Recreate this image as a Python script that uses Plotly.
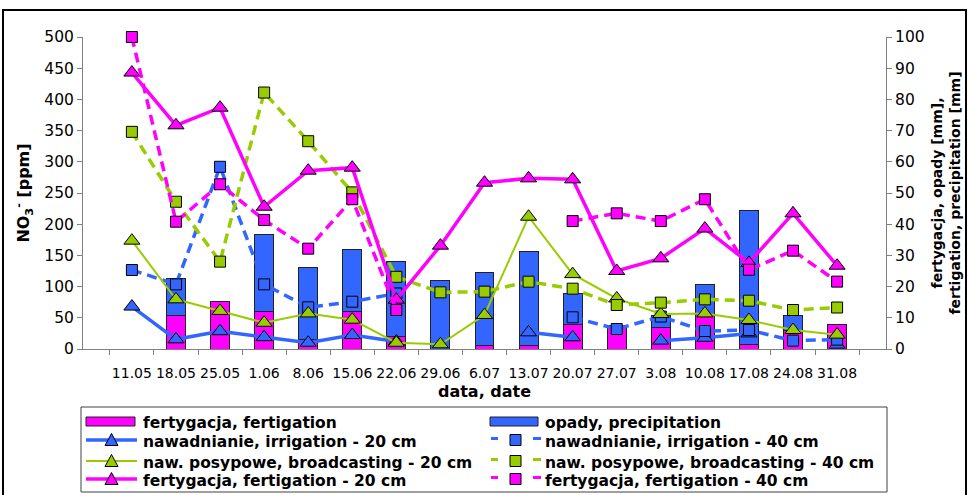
import plotly.graph_objects as go

# Sampling dates
dates = ["11.05", "18.05", "25.05", "1.06", "8.06", "15.06", "22.06", "29.06", "6.07",
         "13.07", "20.07", "27.07", "3.08", "10.08", "17.08", "24.08", "31.08"]

# Water supplied [mm] (right axis)
fertigation_mm = [0, 10.7, 15.2, 11.9, 3.0, 11.9, 4.1, 0, 1.1, 1.1, 8.0, 7.5, 7.0, 10.9, 1.5, 5.8, 8.0]
precipitation_mm = [0, 11.9, 0, 24.9, 23.1, 20.1, 23.9, 22.0, 23.3, 30.1, 9.8, 0, 3.7, 9.9, 42.8, 4.9, 0]

# NO3- concentration [ppm] (left axis)
irrigation_20 = [68, 15.5, 28.5, 19, 10, 22.4, 12, None, None, 26.7, 18.7, None, 13.4, 18, 25, None, 7]
irrigation_40 = [126.6, 103.6, 292, 103.6, 66.8, 75.8, 89, None, None, None, 50.8, 32, 52, 28.8, 30.4, 13.4, 15]
broadcast_20 = [173.6, 79.6, 61, 42, 57, 47, 10, 7.5, 54.5, 212, 120, 81, 56, 57, 46.5, 30.4, 23]
broadcast_40 = [348, 236, 140, 411, 333, 251, 115.7, 90.8, 91.9, 107.9, 96.7, 70.5, 74.3, 79.6, 77.4, 62.5, 66.5]
fertig_20 = [443, 358.5, 386.7, 228, 285.8, 290.6, 79, 165.6, 266.5, 273.5, 271.9, 125, 145.3, 193, 138, 217.4, 133.5]
fertig_40 = [500, 204, 264, 206.7, 160.8, 240, 62.5, None, None, None, 205, 217.4, 205, 240, 127, 157.6, 108]

MAGENTA = "#FF00FF"
BLUE = "#3366FF"
GREEN = "#99CC00"
FONT = "DejaVu Sans"

# page geometry (px)
W, H = 969, 495
ML, MR, MT, MB = 83, 83, 37, 146
PW, PH = W - ML - MR, H - MT - MB


def px(x):
    return (x - ML) / PW


def py(y):
    return (H - MB - y) / PH


fig = go.Figure()

# stacked columns on the mm axis
bar_line = dict(color="#222222", width=1)
fig.add_trace(go.Bar(x=dates, y=fertigation_mm, name="fertygacja, fertigation",
                     marker=dict(color=MAGENTA, line=bar_line), yaxis="y"))
fig.add_trace(go.Bar(x=dates, y=precipitation_mm, name="opady, precipitation",
                     marker=dict(color=BLUE, line=bar_line), yaxis="y"))

DASH = "10px,6px"
series = [
    ("nawadnianie, irrigation - 20 cm", irrigation_20, BLUE, "solid", 3.5, "triangle-up"),
    ("nawadnianie, irrigation - 40 cm", irrigation_40, BLUE, DASH, 3.5, "square"),
    ("naw. posypowe, broadcasting - 20 cm", broadcast_20, GREEN, "solid", 2, "triangle-up"),
    ("naw. posypowe, broadcasting - 40 cm", broadcast_40, GREEN, DASH, 3.5, "square"),
    ("fertygacja, fertigation - 20 cm", fertig_20, MAGENTA, "solid", 3.5, "triangle-up"),
    ("fertygacja, fertigation - 40 cm", fertig_40, MAGENTA, DASH, 3.5, "square"),
]
for name, vals, col, ds, w, sym in series:
    size = 14 if sym == "triangle-up" else 11
    fig.add_trace(go.Scatter(x=dates, y=vals, name=name, mode="lines+markers",
                             line=dict(color=col, width=w, dash=ds),
                             marker=dict(color=col, symbol=sym, size=size,
                                         line=dict(color="black", width=1)),
                             yaxis="y2", connectgaps=False, cliponaxis=False))

tickfont = dict(family=FONT, size=15.5, color="black")
xtickfont = dict(family=FONT, size=14, color="black")
titlefont = dict(family=FONT, size=16, color="black", weight="bold")

fig.update_layout(
    width=W, height=H,
    margin=dict(l=ML, r=MR, t=MT, b=MB),
    paper_bgcolor="white", plot_bgcolor="white",
    barmode="stack", bargap=0.57,
    showlegend=False,
    xaxis=dict(type="category", showline=True, linecolor="#808080", linewidth=1,
               ticks="outside", tickson="boundaries", ticklen=5, tickcolor="#808080",
               tickangle=0, tickfont=xtickfont, ticklabelstandoff=11, showgrid=False,
               automargin=False,
               title=dict(text="data, date", font=titlefont, standoff=6)),
    yaxis=dict(side="right", range=[0, 100], dtick=10, showline=True, linecolor="#808080",
               ticks="outside", ticklen=5, tickcolor="#808080", tickfont=tickfont,
               showgrid=False, zeroline=False, automargin=False,
               title=dict(text="fertygacja, opady [mm],<br>fertigation, precipitation [mm]",
                          font=dict(family=FONT, size=14, color="black", weight="bold"),
                          standoff=8)),
    yaxis2=dict(overlaying="y", side="left", range=[0, 500], dtick=50, showline=True,
                linecolor="#808080", ticks="outside", ticklen=5, tickcolor="#808080",
                tickfont=tickfont, showgrid=False, zeroline=False, automargin=False,
                title=dict(text="NO<sub>3</sub><sup>-</sup> [ppm]", font=titlefont, standoff=10)),
)

shapes = []
annotations = []

# outer chart frame
shapes.append(dict(type="rect", xref="paper", yref="paper",
                   x0=px(3), x1=px(966), y0=py(498), y1=py(10),
                   line=dict(color="black", width=2), fillcolor="rgba(0,0,0,0)", layer="below"))

# legend box below the plot
shapes.append(dict(type="rect", xref="paper", yref="paper",
                   x0=px(81), x1=px(887), y0=py(492), y1=py(407),
                   line=dict(color="#404040", width=1), fillcolor="white", layer="below"))

LEG_FONT = dict(family=FONT, size=15.5, color="black", weight="bold")
rows_sym = [421.5, 440, 461, 479]
rows_txt = [423, 441.5, 462.5, 480.5]
columns = [
    dict(x0=86, x1=137, cx=111.5, tx=141),
    dict(x0=490, x1=540, cx=515.5, tx=543),
]


def triangle_path(cx, cy, col):
    pts = [(cx - 6.5, cy + 5.5), (cx + 6.5, cy + 5.5), (cx, cy - 6.5)]
    d = "M {} {} L {} {} L {} {} Z".format(*[v for p in pts for v in (px(p[0]), py(p[1]))])
    return dict(type="path", xref="paper", yref="paper", path=d, fillcolor=col,
                line=dict(color="black", width=1))


def square_shape(cx, cy, col):
    return dict(type="rect", xref="paper", yref="paper",
                x0=px(cx - 5.5), x1=px(cx + 5.5), y0=py(cy + 5.5), y1=py(cy - 5.5),
                fillcolor=col, line=dict(color="black", width=1))


def legend_text(x, y, text):
    annotations.append(dict(x=px(x), y=py(y), xref="paper", yref="paper", text=text,
                            showarrow=False, xanchor="left", yanchor="middle",
                            font=LEG_FONT))


# row 0: column entries
bar_entries = [(fig.data[0].name, MAGENTA), (fig.data[1].name, BLUE)]
for c, (name, col) in zip(columns, bar_entries):
    shapes.append(dict(type="rect", xref="paper", yref="paper",
                       x0=px(c["x0"]), x1=px(c["x1"] - 2),
                       y0=py(rows_sym[0] + 4.5), y1=py(rows_sym[0] - 4.5),
                       fillcolor=col, line=dict(color="#222222", width=1)))
    legend_text(c["tx"], rows_txt[0], name)

# rows 1-3: line entries (20 cm left, 40 cm right)
for i, (name, vals, col, ds, w, sym) in enumerate(series):
    r = 1 + i // 2
    c = columns[i % 2]
    y = rows_sym[r]
    if ds == "solid":
        shapes.append(dict(type="line", xref="paper", yref="paper",
                           x0=px(c["x0"]), x1=px(c["x1"]), y0=py(y), y1=py(y),
                           line=dict(color=col, width=w)))
        shapes.append(triangle_path(c["cx"], y, col))
    else:
        for a, b in ((c["x0"] + 1, c["x0"] + 8), (c["x1"] - 7, c["x1"] + 1)):
            shapes.append(dict(type="line", xref="paper", yref="paper",
                               x0=px(a), x1=px(b), y0=py(y - 1.5), y1=py(y - 1.5),
                               line=dict(color=col, width=3)))
        shapes.append(square_shape(c["cx"], y, col))
    legend_text(c["tx"], rows_txt[r], name)

fig.update_layout(shapes=shapes, annotations=annotations)

fig.write_html("out.html")
